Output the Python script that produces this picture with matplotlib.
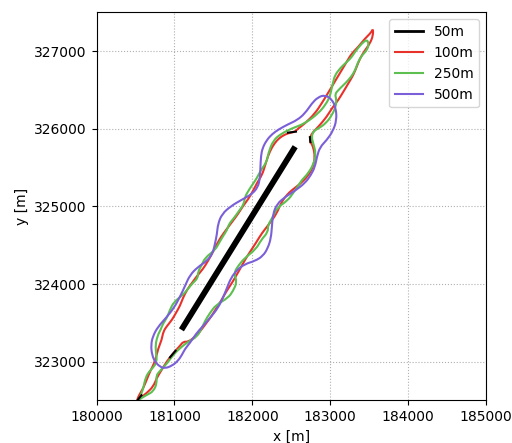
import matplotlib
matplotlib.use("Agg")
import matplotlib.pyplot as plt
from matplotlib.lines import Line2D
from matplotlib.path import Path
from matplotlib.patches import PathPatch

# ---- data (metres) ----
line50_x = [181090, 182550]
line50_y = [323410, 325770]
# small pieces of the 50 m contour visible along the 100 m contour
bits50_x = [[182457, 182560], [182739, 182745], [180520, 180577], [180943, 181014]]
bits50_y = [[325951, 325964], [325893, 325829], [322495, 322566], [323055, 323139]]

red_x = [183548, 183551, 183509, 183445, 183381, 183339, 183295, 183231, 183167, 183102,
         183022, 182954, 182846, 182765, 182739, 182746, 182782, 182804, 182782, 182714,
         182611, 182508, 182440, 182367, 182316, 182226, 182123, 182046, 181969, 181905,
         181828, 181739, 181662, 181606, 181533, 181469, 181392, 181315, 181264, 181178,
         181114, 181071, 180985, 180901, 180837, 180772, 180729, 180644, 180558, 180520,
         180536, 180601, 180644, 180687, 180751, 180793, 180837, 180857, 180905, 180969,
         181020, 181071, 181110, 181161, 181225, 181290, 181367, 181431, 181495, 181546,
         181597, 181662, 181739, 181816, 181880, 181948, 182008, 182059, 182124, 182162,
         182200, 182252, 182316, 182380, 182457, 182547, 182589, 182675, 182804, 182889,
         182954, 183018, 183082, 183146, 183210, 183274, 183359, 183445, 183531]
red_y = [327296, 327206, 327099, 327013, 326906, 326798, 326691, 326584, 326476, 326369,
         326266, 326154, 326025, 325944, 325880, 325829, 325768, 325639, 325511, 325391,
         325288, 325211, 325146, 325043, 324915, 324786, 324657, 324529, 324413, 324310,
         324168, 324014, 323898, 323795, 323679, 323576, 323473, 323370, 323319, 323254,
         323258, 323203, 323109, 323001, 322894, 322787, 322679, 322594, 322530, 322495,
         322551, 322659, 322765, 322872, 323001, 323173, 323280, 323387, 323460, 323538,
         323628, 323718, 323821, 323924, 324014, 324104, 324194, 324297, 324413, 324516,
         324606, 324696, 324799, 324902, 325005, 325095, 325198, 325301, 325404, 325520,
         325648, 325764, 325854, 325906, 325944, 325961, 326005, 326069, 326198, 326327,
         326433, 326540, 326648, 326755, 326862, 326970, 327055, 327163, 327248]

green_x = [183471, 183496, 183471, 183407, 183355, 183330, 183291, 183231, 183167, 183102,
           183060, 183079, 183073, 183022, 182945, 182855, 182782, 182761, 182782, 182816,
           182791, 182718, 182633, 182587, 182523, 182459, 182314, 182263, 182199, 182202,
           182112, 182048, 181904, 181827, 181763, 181804, 181753, 181689, 181534, 181457,
           181393, 181354, 181290, 181178, 181071, 180985, 180901, 180815, 180764, 180776,
           180729, 180648, 180584, 180545,
           180571, 180601, 180622, 180661, 180725, 180776, 180764, 180757, 180783, 180828,
           180852, 180903, 180942, 180993, 181109, 181173, 181237, 181302, 181301, 181352,
           181391, 181522, 181573, 181625, 181676, 181700, 181764, 181828, 181892, 181904,
           181955, 182006, 182058, 182109, 182184, 182204, 182268, 182376, 182504, 182675,
           182846, 182945, 182996, 183018, 183038, 183060, 183124, 183188, 183265, 183317,
           183403]
green_y = [327154, 327090, 327013, 326948, 326858, 326781, 326704, 326626, 326562, 326498,
           326446, 326382, 326292, 326176, 326073, 326009, 325970, 325893, 325812, 325687,
           325558, 325426, 325339, 325262, 325172, 325082, 324979, 324863, 324760, 324670,
           324567, 324451, 324336, 324246, 324143, 324027, 323911, 323821, 323731, 323628,
           323525, 323435, 323319, 323258, 323173, 323087, 322971, 322881, 322817, 322723,
           322615, 322572, 322534, 322508,
           322572, 322659, 322765, 322856, 322920, 322997, 323113, 323216, 323332, 323422,
           323486, 323563, 323666, 323769, 323859, 323937, 324014, 324078, 324155, 324246,
           324336, 324439, 324529, 324619, 324696, 324773, 324850, 324940, 325031, 325121,
           325211, 325288, 325365, 325468, 325571, 325683, 325854, 325940, 326005, 326069,
           326198, 326318, 326420, 326520, 326605, 326691, 326777, 326841, 326910, 326991,
           327099]

purple_x = [182932, 182842, 182765, 182675, 182573, 182461, 182342, 182252, 182184, 182130,
            182111, 182104, 182098, 182072, 181995, 181867, 181726, 181610, 181559, 181546,
            181520, 181491, 181418, 181302, 181200, 181136, 181071, 180994, 180892, 180789,
            180725, 180699, 180712, 180751, 180815, 180879, 180969, 181046, 181097, 181136,
            181200, 181277, 181367, 181469, 181559, 181623, 181674, 181726, 181803, 181905,
            182034, 182136, 182200, 182239, 182252, 182265, 182316, 182419, 182560, 182675,
            182752, 182804, 182829, 182868, 182954, 183034, 183082, 183073, 183022]
purple_y = [326437, 326407, 326330, 326198, 326112, 326060, 325996, 325931, 325854, 325751,
            325648, 325511, 325365, 325249, 325159, 325088, 325005, 324902, 324773, 324644,
            324516, 324396, 324297, 324220, 324117, 323975, 323834, 323692, 323563, 323448,
            323332, 323216, 323087, 322997, 322933, 322913, 322946, 323010, 323087, 323164,
            323242, 323357, 323460, 323576, 323692, 323821, 323949, 324078, 324181, 324258,
            324297, 324361, 324464, 324593, 324747, 324902, 325031, 325121, 325211, 325301,
            325404, 325511, 325639, 325764, 325854, 325970, 326112, 326266, 326382]

labels = ["50m", "100m", "250m", "500m"]
colors = ["black", "#e8312a", "#5cbf4f", "#7a5fd8"]


def smooth_closed(xs, ys):
    """Closed quadratic-Bezier path using the traced points as control points."""
    n = len(xs)
    pts = list(zip(xs, ys))
    mid = lambda a, b: ((a[0] + b[0]) / 2.0, (a[1] + b[1]) / 2.0)
    verts = [mid(pts[-1], pts[0])]
    codes = [Path.MOVETO]
    for i in range(n):
        verts += [pts[i], mid(pts[i], pts[(i + 1) % n])]
        codes += [Path.CURVE3, Path.CURVE3]
    return Path(verts, codes)


# ---- figure ----
fig = plt.figure(figsize=(5.12, 4.43), dpi=100)
ax = fig.add_axes([0.1885, 0.0962, 0.7608, 0.8756])

for xs, ys, c in [(red_x, red_y, colors[1]), (green_x, green_y, colors[2]),
                  (purple_x, purple_y, colors[3])]:
    ax.add_patch(PathPatch(smooth_closed(xs, ys), fill=False, edgecolor=c, lw=1.5))
for bx, by in zip(bits50_x, bits50_y):
    ax.plot(bx, by, color=colors[0], lw=1.5)
ax.plot(line50_x, line50_y, color=colors[0], lw=4.2, solid_capstyle="butt")

ax.set_xlim(180000, 185000)
ax.set_ylim(322500, 327500)
ax.set_xticks(range(180000, 185001, 1000))
ax.set_yticks(range(323000, 327001, 1000))
ax.grid(True, linestyle=":", color="#b0b0b0", lw=0.8)
ax.set_axisbelow(True)
ax.set_xlabel("x [m]")
ax.set_ylabel("y [m]")

handles = [Line2D([], [], color=c, lw=2.0 if i == 0 else 1.5) for i, c in enumerate(colors)]
ax.legend(handles, labels, loc="upper right", fontsize=10)

fig.savefig("out.png", dpi=100)
